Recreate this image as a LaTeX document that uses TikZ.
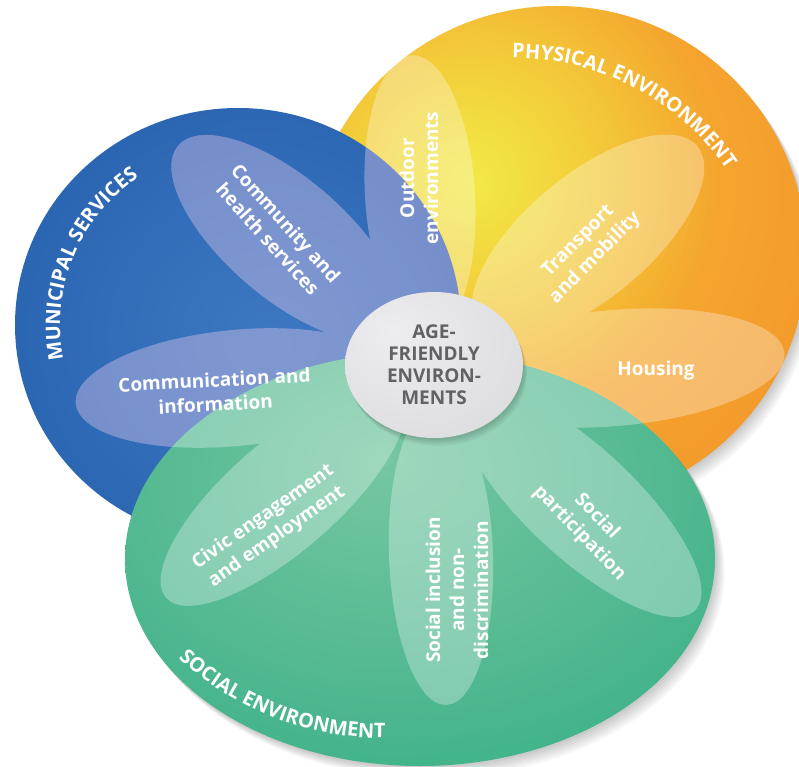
\documentclass[tikz,border=0pt]{standalone}
\usepackage{fontspec}
\setmainfont{Open Sans}
\usetikzlibrary{shapes.geometric,decorations.text,fadings}

\definecolor{hubtext}{RGB}{98,98,102}
\definecolor{petaltint}{RGB}{200,95,200}
\definecolor{yellowglow}{RGB}{242,234,70}

% dégradés des trois domaines et du centre
\pgfdeclareradialshading{blueball}{\pgfpoint{4bp}{-2bp}}{rgb(0bp)=(0.24,0.47,0.76); rgb(20bp)=(0.19,0.42,0.72); rgb(52bp)=(0.10,0.33,0.63); rgb(80bp)=(0.10,0.33,0.63)}
\pgfdeclareradialshading{orangeball}{\pgfpoint{-10bp}{10bp}}{rgb(0bp)=(0.96,0.72,0.19); rgb(25bp)=(0.96,0.64,0.18); rgb(45bp)=(0.94,0.56,0.16); rgb(80bp)=(0.92,0.51,0.14)}
\pgfdeclareradialshading{greenball}{\pgfpoint{-3bp}{12bp}}{rgb(0bp)=(0.46,0.78,0.63); rgb(25bp)=(0.31,0.72,0.56); rgb(55bp)=(0.12,0.66,0.50); rgb(80bp)=(0.10,0.63,0.48)}
\pgfdeclareradialshading{hubball}{\pgfpoint{-12bp}{12bp}}{rgb(0bp)=(0.93,0.93,0.94); rgb(40bp)=(0.86,0.86,0.87); rgb(70bp)=(0.78,0.78,0.80)}
\tikzfading[name=glowfade, inner color=transparent!0, outer color=transparent!100]

\tikzset{
  petal/.style={fill=white},
  lbl/.style={text=white, font=\bfseries\fontsize{19}{24}\selectfont, align=center, inner sep=0pt},
  hub/.style={ellipse, minimum width=178pt, minimum height=146pt, inner sep=0pt,
    shade, shading=hubball, text=hubtext, font=\bfseries\fontsize{19}{22}\selectfont, align=center},
  ringtext/.style={decorate, decoration={text along path, text align=center, text color=white}}
}

\begin{document}
\begin{tikzpicture}[x=1pt,y=1pt]
  \useasboundingbox (0,0) rectangle (799,766);
  \fill[white] (0,0) rectangle (799,766);
  \clip (0,0) rectangle (799,766);

  % environnement physique
  \foreach \k in {1,...,6}
    \fill[black, opacity=0.035, shift={(\k*1.6,-\k*2)}] (557,510) circle [radius=250];
  \shade[shading=orangeball] (557,510) circle [radius=250];
  \begin{scope}
    \clip (557,510) circle [radius=250];
    \fill[yellowglow, path fading=glowfade] (468,585) circle [radius=250];
  \end{scope}

  % services municipaux
  \shade[shading=blueball] (238,441) ellipse [x radius=223, y radius=217];

  % environnement social
  \foreach \k in {1,...,6}
    \fill[black, opacity=0.035, shift={(\k*1.6,-\k*2)}] (420,207) ellipse [x radius=295, y radius=207];
  \shade[shading=greenball] (420,207) ellipse [x radius=295, y radius=207];

  % pétales
  \def\petals{420/571/140/55/93.5, 588/529/142/62/39.7, 615/398/170/58/5,
        286/528/142/60/139.4, 235/378/160/58/185.6,
        283/270/155/55/221, 441/211/150/52/272, 580/264/158/55/-43}
  \begin{scope}[transparency group, opacity=0.3]
    \foreach \px/\py/\pa/\pb/\pang in \petals
      \fill[petal, rotate around={\pang:(\px,\py)}] (\px,\py) ellipse [x radius=\pa, y radius=\pb];
  \end{scope}
  \begin{scope}[transparency group, opacity=0.11, even odd rule]
    \clip (238,441) ellipse [x radius=223, y radius=217];
    \clip (0,0) rectangle (799,766) (420,207) ellipse [x radius=295, y radius=207];
    \foreach \px/\py/\pa/\pb/\pang in \petals
      \fill[petaltint, rotate around={\pang:(\px,\py)}] (\px,\py) ellipse [x radius=\pa, y radius=\pb];
  \end{scope}

  % centre
  \foreach \k in {1,...,5}
    \fill[black, opacity=0.04, shift={(\k*0.8,-\k*1.6)}] (434,401) ellipse [x radius=89, y radius=73];
  \node[hub] (hub) at (434,401) {AGE-\\FRIENDLY\\ENVIRON-\\MENTS};

  % étiquettes des pétales
  \node[lbl, rotate=-48] (health) at (277,535) {Community and\\health services};
  \node[lbl, rotate=3] (info) at (215,374) {Communication and\\information};
  \node[lbl, rotate=90] (outdoor) at (419,588) {Outdoor\\environments};
  \node[lbl, rotate=45] (transport) at (587,516) {Transport\\and mobility};
  \node[lbl] (housing) at (656,395) {Housing};
  \node[lbl, rotate=35] (civic) at (270,239) {Civic engagement\\and employment};
  \node[lbl, rotate=90] (inclusion) at (457,176) {Social inclusion\\and non-\\discrimination};
  \node[lbl, rotate=-46] (participation) at (588,241) {Social\\participation};

  % titres courbes
  \path[ringtext, decoration={text={|\bfseries\fontsize{20}{20}\selectfont|MUNICIPAL SERVICES}}]
    ([shift={(200:178)}]238,441) arc[start angle=200, end angle=115, radius=178];
  \path[ringtext, decoration={text={|\bfseries\fontsize{20}{20}\selectfont|PHYSICAL ENVIRONMENT}}]
    ([shift={(100:258)}]514,450) arc[start angle=100, end angle=25, radius=258];
  \path[ringtext, decoration={text={|\bfseries\fontsize{20}{20}\selectfont|SOCIAL ENVIRONMENT}}]
    ([shift={(215:303)}]383,331) arc[start angle=215, end angle=283, radius=303];
\end{tikzpicture}
\end{document}
